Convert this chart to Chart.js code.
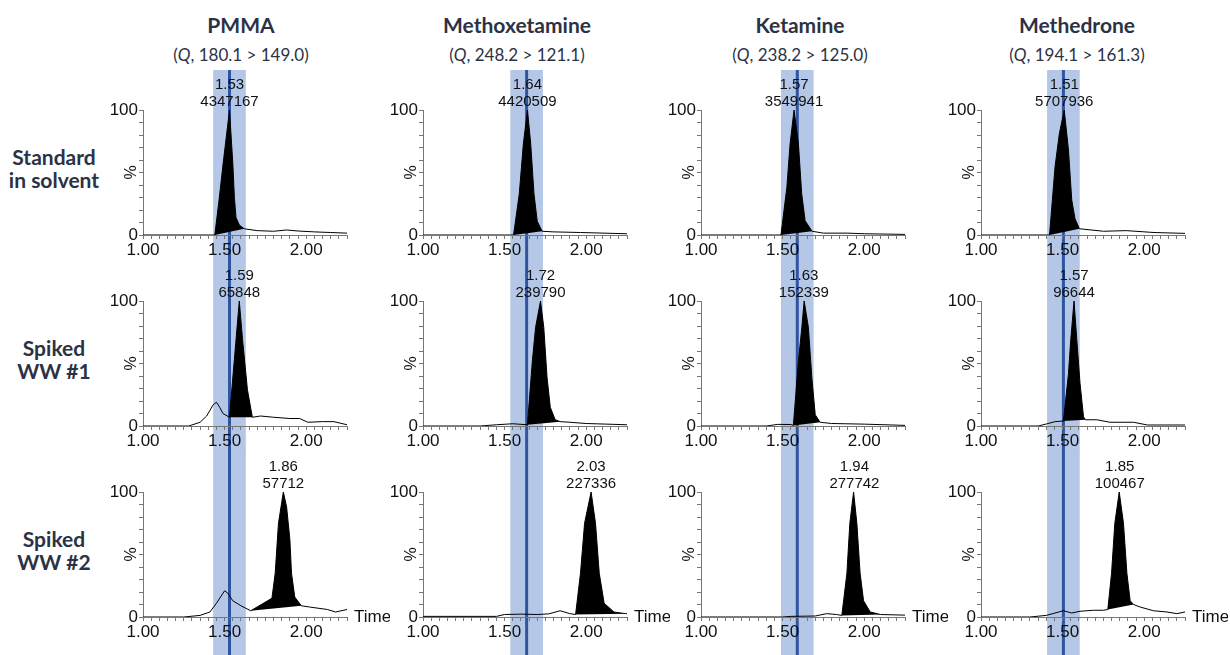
<!DOCTYPE html>
<html>
<head>
<meta charset="utf-8">
<script src="https://cdn.jsdelivr.net/npm/chart.js@4.4.1/dist/chart.umd.min.js"></script>
<style>
  body { margin: 0; background: #fff; width: 1230px; height: 655px; overflow: hidden; position: relative; font-family: Lato, "Open Sans", sans-serif; }
  .title { position: absolute; width: 280px; text-align: center; color: #2b3245; font-weight: bold; font-size: 21px; }
  .sub { position: absolute; width: 280px; text-align: center; color: #2b3245; font-size: 17px; }
  .rowlab { position: absolute; width: 120px; text-align: center; color: #2b3245; font-weight: bold; font-size: 21px; line-height: 23px; }
  canvas { position: absolute; }
</style>
</head>
<body>
<script>
var compounds = ["PMMA", "Methoxetamine", "Ketamine", "Methedrone"];
var transitions = ["180.1 > 149.0", "248.2 > 121.1", "238.2 > 125.0", "194.1 > 161.3"];
var samples = [["Standard", "in solvent"], ["Spiked", "WW #1"], ["Spiked", "WW #2"]];

// retention time window (centre) for each compound, +/- windowHalf
var expectedRT = [1.53, 1.635, 1.59, 1.505];
var windowHalf = 0.1;

// labelled peak: retention time and area, rows = samples, cols = compounds
var peakRT = [[1.53, 1.64, 1.57, 1.51], [1.59, 1.72, 1.63, 1.57], [1.86, 2.03, 1.94, 1.85]];
var peakArea = [[4347167, 4420509, 3549941, 5707936], [65848, 239790, 152339, 96644], [57712, 227336, 277742, 100467]];
// integration start / end of the black peak
var peakStart = [[1.44, 1.555, 1.49, 1.42], [1.53, 1.64, 1.566, 1.505], [1.66, 1.935, 1.863, 1.777]];
var peakEnd = [[1.62, 1.73, 1.68, 1.603], [1.67, 1.84, 1.73, 1.64], [1.97, 2.24, 2.10, 1.935]];

// chromatograms [time, %]
var pmmaStd = [[1.00,0],[1.40,0],[1.44,0],[1.466,28],[1.49,56],[1.53,100],[1.55,58],[1.56,30],[1.57,14],[1.59,8],[1.62,5],[1.70,3.5],[1.80,3],[1.88,4],[1.95,3.2],[2.05,2.5],[2.15,2],[2.25,1.5]];
var mxeStd = [[1.00,0],[1.50,0],[1.555,0],[1.59,33],[1.615,73],[1.64,100],[1.66,73],[1.68,33],[1.70,11],[1.73,3],[1.80,2.5],[1.965,2],[2.25,1]];
var ketStd = [[1.00,0],[1.45,0],[1.49,0],[1.526,38],[1.546,73],[1.57,100],[1.597,73],[1.617,33],[1.638,11.5],[1.68,3],[1.75,1.5],[1.90,1.5],[2.00,1],[2.25,0.5]];
var methStd = [[1.00,0],[1.38,0],[1.42,0],[1.454,55],[1.48,81],[1.51,100],[1.536,68],[1.556,28],[1.576,13],[1.603,5],[1.75,3],[1.89,3.5],[2.06,2],[2.25,1.3]];

var pmmaWw1 = [[1.00,0],[1.28,0],[1.35,3],[1.39,8],[1.43,17],[1.45,19],[1.47,15],[1.49,10],[1.53,7],[1.59,100],[1.61,69],[1.64,29],[1.67,7],[1.72,8],[1.80,7],[1.90,6],[1.96,6],[2.01,3],[2.10,3.5],[2.17,3.5],[2.25,1]];
var mxeWw1 = [[1.00,0],[1.35,0],[1.45,1],[1.55,1.8],[1.64,1],[1.67,52],[1.69,79],[1.72,100],[1.74,79],[1.76,39],[1.78,15],[1.81,5],[1.84,3.5],[1.90,3],[2.00,2],[2.25,1]];
var ketWw1 = [[1.00,0],[1.40,0],[1.47,1.3],[1.55,1.2],[1.566,0.5],[1.597,52],[1.618,79],[1.632,100],[1.658,79],[1.679,39],[1.70,9],[1.73,3],[1.80,2],[2.00,1.5],[2.25,0.5]];
var methWw1 = [[1.00,0],[1.35,0],[1.40,1.6],[1.454,3.5],[1.505,4],[1.536,42],[1.55,69],[1.57,100],[1.587,69],[1.607,34],[1.628,7.5],[1.64,5],[1.71,5],[1.79,3],[1.935,3],[2.02,0.8],[2.25,0.8]];

var pmmaWw2 = [[1.00,0],[1.25,0],[1.35,1.3],[1.41,4],[1.45,11],[1.50,21],[1.52,19],[1.55,13],[1.60,9],[1.66,5],[1.79,15],[1.81,35],[1.83,75],[1.86,100],[1.88,88],[1.90,62],[1.91,35],[1.93,16],[1.97,9],[2.02,8],[2.13,6],[2.18,4],[2.25,6]];
var mxeWw2 = [[1.00,0.5],[1.45,0.5],[1.50,2],[1.60,2.3],[1.70,2],[1.77,2.5],[1.84,5],[1.90,2.7],[1.935,2],[1.965,35],[1.99,75],[2.03,100],[2.057,75],[2.08,35],[2.11,11],[2.17,4],[2.24,2.7],[2.25,2.7]];
var ketWw2 = [[1.00,0],[1.50,0],[1.55,0.5],[1.70,0.8],[1.77,2.7],[1.83,2],[1.863,1.3],[1.894,35],[1.912,75],[1.935,100],[1.955,75],[1.975,35],[1.996,13],[2.037,4],[2.10,2],[2.25,1.5]];
var methWw2 = [[1.00,0],[1.30,0],[1.40,1.3],[1.44,2.7],[1.505,5],[1.556,3.2],[1.607,4.6],[1.69,5.4],[1.75,5.4],[1.777,6],[1.80,35],[1.82,75],[1.847,100],[1.873,75],[1.894,35],[1.914,13],[1.935,10],[1.975,8],[2.057,5],[2.14,4],[2.20,2.7],[2.25,4]];

var traces = [
  [pmmaStd, mxeStd, ketStd, methStd],
  [pmmaWw1, mxeWw1, ketWw1, methWw1],
  [pmmaWw2, mxeWw2, ketWw2, methWw2]
];

// layout
var axisLeft = [143, 423, 701, 981];
var rowTop = [70, 261, 452];
var titleCentre = [241, 517, 800, 1077];
var yAxisW = 38, plotW = 204, canvasW = 285;

var tickFont = { family: "'Liberation Sans', Arial, sans-serif", size: 17 };

// titles and row labels
compounds.forEach(function (name, c) {
  var t = document.createElement("div");
  t.className = "title";
  t.style.left = (titleCentre[c] - 140) + "px";
  t.style.top = "12px";
  t.textContent = name;
  document.body.appendChild(t);

  var s = document.createElement("div");
  s.className = "sub";
  s.style.left = (titleCentre[c] - 140) + "px";
  s.style.top = "44px";
  s.appendChild(document.createTextNode("("));
  var q = document.createElement("i");
  q.textContent = "Q";
  s.appendChild(q);
  s.appendChild(document.createTextNode(", " + transitions[c] + ")"));
  document.body.appendChild(s);
});

samples.forEach(function (lines, r) {
  var d = document.createElement("div");
  d.className = "rowlab";
  d.style.left = "-6px";
  d.style.top = (rowTop[r] + 40 + 62 - 27) + "px";
  d.innerHTML = lines[0] + "<br>" + lines[1];
  document.body.appendChild(d);
});

var panelDecor = {
  id: "panelDecor",
  beforeDraw: function (chart, args, o) {
    var ctx = chart.ctx, x = chart.scales.x;
    var x0 = x.getPixelForValue(o.window - windowHalf);
    var x1 = x.getPixelForValue(o.window + windowHalf);
    var xm = x.getPixelForValue(o.window);
    ctx.save();
    ctx.fillStyle = "#b4c7e7";
    ctx.fillRect(x0, 0, x1 - x0, chart.height);
    ctx.strokeStyle = "#2f54a2";
    ctx.lineWidth = 3;
    ctx.beginPath();
    ctx.moveTo(xm, 0);
    ctx.lineTo(xm, chart.height);
    ctx.stroke();
    ctx.restore();
  },
  afterDraw: function (chart, args, o) {
    var ctx = chart.ctx, x = chart.scales.x, y = chart.scales.y;
    ctx.save();
    ctx.fillStyle = "#111";
    ctx.font = "15px 'Liberation Sans', Arial, sans-serif";
    ctx.textAlign = "center";
    ctx.textBaseline = "bottom";
    var px = x.getPixelForValue(o.rt), top = y.getPixelForValue(100);
    ctx.fillText(o.rt.toFixed(2), px, top - 18);
    ctx.fillText(String(o.area), px, top - 1);

    ctx.font = "16px 'Liberation Sans', Arial, sans-serif";
    ctx.translate(y.right - 11, y.getPixelForValue(50));
    ctx.rotate(-Math.PI / 2);
    ctx.textBaseline = "middle";
    ctx.fillText("%", 0, 0);
    ctx.restore();

    if (o.time) {
      ctx.save();
      ctx.fillStyle = "#111";
      ctx.font = "17px 'Liberation Sans', Arial, sans-serif";
      ctx.textAlign = "left";
      ctx.textBaseline = "middle";
      ctx.fillText("Time", x.right + 7, y.bottom);
      ctx.restore();
    }
  }
};

function makePanel(r, c) {
  var trace = traces[r][c];
  var pts = trace.map(function (p) { return { x: p[0], y: p[1] }; });
  var peak = pts.filter(function (p) { return p.x >= peakStart[r][c] && p.x <= peakEnd[r][c]; });
  peak.push(peak[0]);

  var h = r === 2 ? 655 - rowTop[r] : 192;
  var cv = document.createElement("canvas");
  cv.width = canvasW;
  cv.height = h;
  cv.style.left = (axisLeft[c] - yAxisW) + "px";
  cv.style.top = rowTop[r] + "px";
  document.body.appendChild(cv);

  new Chart(cv, {
    type: "line",
    data: {
      datasets: [
        {
          data: peak,
          borderWidth: 0,
          backgroundColor: "#000",
          fill: "shape",
          pointRadius: 0,
          tension: 0,
          order: 2
        },
        {
          data: pts,
          borderColor: "#000",
          borderWidth: 1,
          fill: false,
          pointRadius: 0,
          tension: 0,
          order: 1
        }
      ]
    },
    options: {
      responsive: false,
      animation: false,
      layout: { padding: { top: 40, left: 0, right: canvasW - yAxisW - plotW, bottom: h - 192 } },
      plugins: {
        legend: { display: false },
        tooltip: { enabled: false },
        panelDecor: { window: expectedRT[c], rt: peakRT[r][c], area: peakArea[r][c], time: r === 2 }
      },
      scales: {
        x: {
          type: "linear",
          min: 1,
          max: 2.25,
          afterFit: function (s) { s.height = 27; },
          border: { color: "#777", width: 1 },
          grid: { drawOnChartArea: false, tickLength: 4, tickColor: "#777" },
          ticks: {
            stepSize: 0.05,
            autoSkip: false,
            maxRotation: 0,
            minRotation: 0,
            padding: 1,
            color: "#111",
            font: tickFont,
            callback: function (v) {
              return Math.round(v * 100) % 50 === 0 ? v.toFixed(2) : "";
            }
          }
        },
        y: {
          min: 0,
          max: 100,
          afterFit: function (s) { s.width = yAxisW; },
          border: { color: "#777", width: 1 },
          grid: { drawOnChartArea: false, tickLength: 4, tickColor: "#777" },
          ticks: {
            stepSize: 10,
            autoSkip: false,
            padding: 1,
            color: "#111",
            font: tickFont,
            callback: function (v) {
              return v === 0 || v === 100 ? v : "";
            }
          }
        }
      }
    },
    plugins: [panelDecor]
  });
}

for (var r = 0; r < 3; r++) {
  for (var c = 0; c < 4; c++) {
    makePanel(r, c);
  }
}
</script>
</body>
</html>
